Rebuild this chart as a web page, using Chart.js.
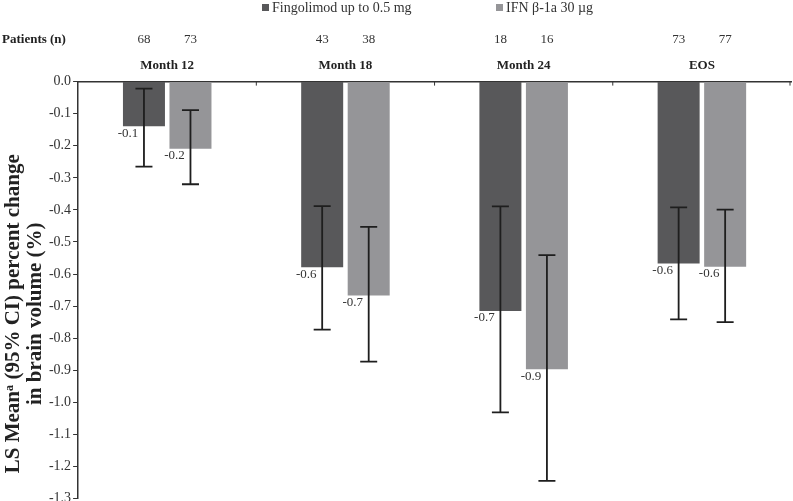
<!DOCTYPE html>
<html lang="en">
<head>
<meta charset="UTF-8">
<title>Brain volume change</title>
<script src="https://cdn.jsdelivr.net/npm/chart.js"></script>
<style>
  html, body { margin: 0; padding: 0; background: #fff; overflow: hidden; }
  #wrap { position: relative; width: 793px; height: 509px; }
</style>
</head>
<body>
<div id="wrap"><canvas id="grafico"></canvas></div>
<script>
// categorias e series
const categorias = ['Month 12', 'Month 18', 'Month 24', 'EOS'];
const nomesSeries = ['Fingolimod up to 0.5 mg', 'IFN β-1a 30 µg'];

// medias LS e IC 95%
const fingolimodMedia = [-0.139, -0.579, -0.715, -0.567];
const fingolimodIcSup = [-0.022, -0.388, -0.389, -0.392];
const fingolimodIcInf = [-0.265, -0.773, -1.031, -0.741];
const ifnMedia = [-0.209, -0.667, -0.897, -0.577];
const ifnIcSup = [-0.089, -0.453, -0.541, -0.399];
const ifnIcInf = [-0.320, -0.873, -1.245, -0.750];

// numero de pacientes
const pacientesFingolimod = [68, 43, 18, 73];
const pacientesIfn = [73, 38, 16, 77];

// eixo y
const yMin = -1.3;
const yMax = 0;
const yPasso = 0.1;

const corEscura = '#58585a';
const corClara = '#959598';
const fonte = '"Liberation Serif", "Times New Roman", serif';

const ics = [[fingolimodIcSup, fingolimodIcInf], [ifnIcSup, ifnIcInf]];
const pacientes = [pacientesFingolimod, pacientesIfn];

// desenha barras de erro, rotulos, pacientes e legenda
const extras = {
    id: 'extras',
    afterDatasetsDraw(chart) {
        const ctx = chart.ctx;
        const y = chart.scales.y;
        const x = chart.scales.x;
        const area = chart.chartArea;

        ctx.save();
        chart.data.datasets.forEach((ds, d) => {
            const meta = chart.getDatasetMeta(d);
            meta.data.forEach((bar, i) => {
                const yTop = y.getPixelForValue(ics[d][0][i]);
                const yBot = y.getPixelForValue(ics[d][1][i]);
                ctx.strokeStyle = '#1e1e1e';
                ctx.lineWidth = 1.8;
                ctx.beginPath();
                ctx.moveTo(bar.x, yTop);
                ctx.lineTo(bar.x, yBot);
                ctx.moveTo(bar.x - 8.5, yTop);
                ctx.lineTo(bar.x + 8.5, yTop);
                ctx.moveTo(bar.x - 8.5, yBot);
                ctx.lineTo(bar.x + 8.5, yBot);
                ctx.stroke();

                ctx.fillStyle = '#333';
                ctx.font = '13px ' + fonte;
                ctx.textAlign = 'center';
                ctx.textBaseline = 'middle';
                ctx.fillText(ds.data[i].toFixed(1), bar.x - 16, bar.y + 7);

                ctx.fillText(String(pacientes[d][i]), bar.x, 40);
            });
        });

        // pequenos ticks entre as categorias
        ctx.strokeStyle = '#333';
        ctx.lineWidth = 1;
        for (let i = 0; i < categorias.length; i++) {
            const xb = i < categorias.length - 1
                ? (x.getPixelForValue(i) + x.getPixelForValue(i + 1)) / 2
                : area.right - 1;
            ctx.beginPath();
            ctx.moveTo(xb, area.top);
            ctx.lineTo(xb, area.top + 4);
            ctx.stroke();
        }

        // Patients (n)
        ctx.fillStyle = '#222';
        ctx.font = 'bold 13px ' + fonte;
        ctx.textAlign = 'left';
        ctx.fillText('Patients (n)', 2, 40);

        // legenda
        const legX = [262, 496];
        [corEscura, corClara].forEach((c, k) => {
            ctx.fillStyle = c;
            ctx.fillRect(legX[k], 4, 7, 7);
            ctx.fillStyle = '#333';
            ctx.font = '14px ' + fonte;
            ctx.fillText(nomesSeries[k], legX[k] + 10, 8);
        });
        ctx.restore();
    }
};

new Chart(document.getElementById('grafico'), {
    type: 'bar',
    data: {
        labels: categorias,
        datasets: [
            { label: nomesSeries[0], data: fingolimodMedia, backgroundColor: corEscura },
            { label: nomesSeries[1], data: ifnMedia, backgroundColor: corClara }
        ]
    },
    options: {
        responsive: true,
        maintainAspectRatio: false,
        animation: false,
        layout: { padding: { top: 50, right: 2, left: 0, bottom: 0 } },
        datasets: { bar: { categoryPercentage: 0.522, barPercentage: 0.903 } },
        plugins: { legend: { display: false }, tooltip: { enabled: false } },
        scales: {
            x: {
                position: 'top',
                grid: { display: false, drawTicks: false },
                border: { display: true, color: '#333', width: 1.5 },
                ticks: { color: '#222', padding: 8, font: { family: fonte, size: 13, weight: 'bold' } }
            },
            y: {
                min: yMin,
                max: yMax,
                grid: { drawOnChartArea: false, drawTicks: true, tickLength: 5, color: '#333' },
                border: { display: true, color: '#333', width: 1.5 },
                ticks: {
                    stepSize: yPasso,
                    padding: 2,
                    color: '#333',
                    font: { family: fonte, size: 14 },
                    callback: v => Number(v).toFixed(1)
                },
                title: {
                    display: true,
                    text: ['LS Meanᵃ (95% CI) percent change' + '\u00a0'.repeat(9),
                           'in brain volume (%)' + '\u00a0'.repeat(9)],
                    color: '#222',
                    font: { family: fonte, size: 21, weight: 'bold', lineHeight: 1.07 },
                    padding: { top: 2, bottom: 0 }
                }
            }
        }
    },
    plugins: [extras]
});
</script>
</body>
</html>
